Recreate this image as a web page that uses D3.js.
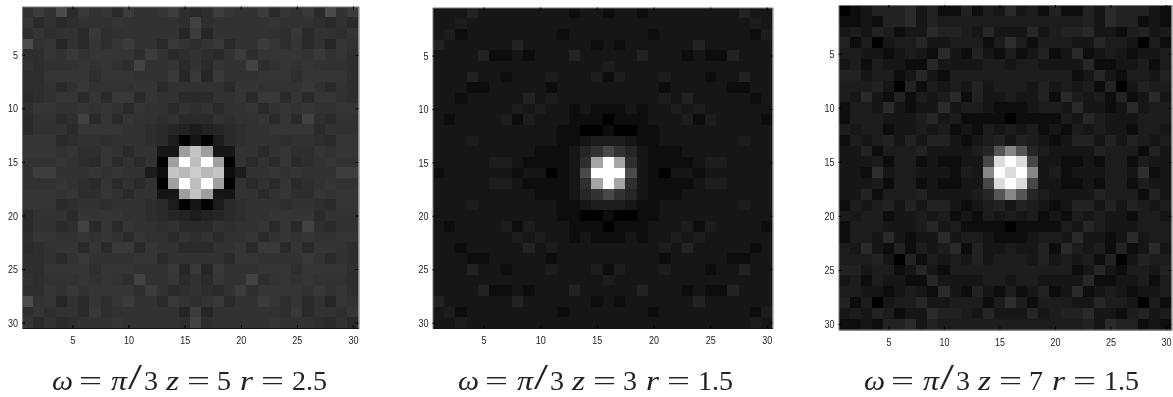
<!DOCTYPE html>
<html>
<head>
    <meta charset="utf-8" />
    <title>Gray images</title>
    <script src="https://d3js.org/d3.v7.min.js"></script>
    <style>
        html, body { margin: 0; padding: 0; background: #fff; }
        svg { display: block; }
        .tick text { font-family: "Liberation Sans", sans-serif; font-size: 11.5px; fill: #222; }
        .caption { font-family: "Liberation Serif", serif; font-size: 28px; fill: #222; }
    </style>
</head>
<body>
    <div id="the-chart"></div>
    <script>
        var tick_values = [5, 10, 15, 20, 25, 30];

        var image_a = [
            [48,58,50,72,44,56,48,54,44,58,50,50,52,60,46,44,46,60,52,50,50,58,44,54,48,56,44,72,50,58],
            [52,44,50,42,46,50,48,50,52,50,48,50,50,50,46,66,46,50,50,50,48,50,52,50,48,50,46,42,50,44],
            [46,54,46,50,50,44,56,46,50,50,50,50,50,50,40,62,40,50,50,50,50,50,50,46,56,44,50,50,46,54],
            [75,48,52,40,50,44,54,46,52,58,48,50,44,56,50,46,50,56,44,50,48,58,52,46,54,44,50,40,52,48],
            [46,46,52,50,56,48,52,52,54,54,46,58,50,44,46,50,46,44,50,58,46,54,54,52,52,48,56,50,52,46],
            [50,46,48,48,50,52,48,52,50,46,66,50,50,54,44,50,44,54,50,50,66,46,50,52,48,52,50,48,48,46],
            [46,46,54,54,54,52,46,52,54,52,48,50,50,56,40,56,40,56,50,50,48,52,54,52,46,52,54,54,54,46],
            [46,46,48,44,50,56,50,50,50,48,52,52,44,50,50,50,50,50,44,52,52,48,50,50,50,56,50,44,48,46],
            [42,46,50,54,54,44,54,44,56,56,44,52,50,50,42,42,42,50,50,52,44,56,56,44,54,44,54,54,50,46],
            [46,52,52,50,50,52,48,54,50,42,52,48,50,42,50,46,50,42,50,48,52,42,50,54,48,52,50,50,52,52],
            [44,50,50,44,46,66,42,52,44,54,50,50,46,50,42,42,42,50,46,50,50,54,44,52,42,66,46,44,50,50],
            [44,50,50,50,42,52,52,54,54,48,48,46,44,40,36,30,36,40,44,46,48,48,54,54,52,52,42,50,50,50],
            [52,52,52,44,46,50,50,46,50,50,48,46,44,30,5,18,5,30,44,46,48,50,50,46,50,50,46,44,52,52],
            [52,52,52,48,54,46,46,52,50,44,50,50,22,18,158,195,158,18,22,50,50,44,50,52,46,46,54,48,52,52],
            [50,50,48,52,50,46,44,52,44,50,44,50,0,160,255,190,255,160,0,50,44,50,44,52,44,46,50,52,48,50],
            [50,60,60,50,50,48,54,48,52,48,50,30,15,195,185,205,185,195,15,30,50,48,52,48,54,48,50,50,60,60],
            [50,50,48,52,50,46,44,52,44,50,44,50,0,160,255,190,255,160,0,50,44,50,44,52,44,46,50,52,48,50],
            [52,52,52,48,54,46,46,52,50,44,50,50,22,18,158,195,158,18,22,50,50,44,50,52,46,46,54,48,52,52],
            [52,52,52,44,46,50,50,46,50,50,48,46,44,30,5,18,5,30,44,46,48,50,50,46,50,50,46,44,52,52],
            [44,50,50,50,42,52,52,54,54,48,48,46,44,40,36,30,36,40,44,46,48,48,54,54,52,52,42,50,50,50],
            [44,50,50,44,46,66,42,52,44,54,50,50,46,50,42,42,42,50,46,50,50,54,44,52,42,66,46,44,50,50],
            [46,52,52,50,50,52,48,54,50,42,52,48,50,42,50,46,50,42,50,48,52,42,50,54,48,52,50,50,52,52],
            [42,46,50,54,54,44,54,44,56,56,44,52,50,50,42,42,42,50,50,52,44,56,56,44,54,44,54,54,50,46],
            [46,46,48,44,50,56,50,50,50,48,52,52,44,50,50,50,50,50,44,52,52,48,50,50,50,56,50,44,48,46],
            [46,46,54,54,54,52,46,52,54,52,48,50,50,56,40,56,40,56,50,50,48,52,54,52,46,52,54,54,54,46],
            [50,46,48,48,50,52,48,52,50,46,66,50,50,54,44,50,44,54,50,50,66,46,50,52,48,52,50,48,48,46],
            [46,46,52,50,56,48,52,52,54,54,46,58,50,44,46,50,46,44,50,58,46,54,54,52,52,48,56,50,52,46],
            [75,48,52,40,50,44,54,46,52,58,48,50,44,56,50,46,50,56,44,50,48,58,52,46,54,44,50,40,52,48],
            [46,54,46,50,50,44,56,46,50,50,50,50,50,50,40,62,40,50,50,50,50,50,50,46,56,44,50,50,46,54],
            [52,44,50,42,46,50,48,50,52,50,48,50,50,50,46,66,46,50,50,50,48,50,52,50,48,50,46,42,50,44]
        ];

        var image_b = [
            [20,20,22,36,20,22,22,22,18,20,22,20,16,20,18,10,18,20,16,20,22,20,18,22,22,22,20,36,22,20],
            [20,20,28,18,20,20,20,20,20,20,18,22,22,20,20,20,20,20,22,22,18,20,20,20,20,20,20,18,28,20],
            [20,28,12,20,20,22,22,22,18,18,20,16,20,22,22,18,22,22,20,16,20,18,18,22,22,22,20,20,12,28],
            [36,20,20,20,20,20,24,32,18,18,20,22,20,24,16,20,16,24,20,22,20,18,18,32,24,20,20,20,20,20],
            [20,20,20,20,36,16,16,20,16,20,20,20,32,18,22,20,22,18,32,20,20,20,16,20,16,16,36,20,20,20],
            [20,20,20,20,22,18,20,20,20,20,20,20,20,20,18,26,18,20,20,20,20,20,20,20,20,18,22,20,20,20],
            [20,20,20,32,18,22,14,20,18,20,26,20,20,22,28,14,28,22,20,20,26,20,18,20,14,22,18,32,20,20],
            [20,20,20,16,8,20,22,20,20,24,16,20,18,20,20,18,20,20,18,20,16,24,20,20,22,20,8,16,20,20],
            [20,20,16,18,20,18,22,20,32,20,30,18,20,20,20,20,20,20,20,18,30,20,32,20,22,18,20,18,16,20],
            [20,20,20,20,20,18,20,28,20,26,20,20,16,18,14,14,14,18,16,20,20,26,20,28,20,18,20,20,20,20],
            [20,14,22,22,18,22,26,14,26,20,22,20,14,8,10,0,10,8,14,20,22,20,26,14,26,22,18,22,22,14],
            [20,22,20,20,20,20,20,20,20,22,20,16,10,6,4,14,4,6,10,16,20,22,20,20,20,20,20,20,20,22],
            [20,22,18,26,20,18,20,20,20,22,18,14,16,24,28,28,28,24,16,14,18,22,20,20,20,18,20,26,18,22],
            [20,20,20,20,20,20,20,20,18,16,14,14,20,38,48,72,48,38,20,14,14,16,18,20,20,20,20,20,20,20],
            [18,20,20,20,20,26,26,20,16,12,10,14,22,45,165,255,165,45,22,14,10,12,16,20,26,26,20,20,20,20],
            [16,18,18,18,18,22,20,16,20,18,6,14,24,75,255,255,255,75,24,14,6,18,20,16,20,22,18,18,18,18],
            [18,20,20,20,20,26,26,20,16,12,10,14,22,45,165,255,165,45,22,14,10,12,16,20,26,26,20,20,20,20],
            [20,20,20,20,20,20,20,20,18,16,14,14,20,38,48,72,48,38,20,14,14,16,18,20,20,20,20,20,20,20],
            [20,22,18,26,20,18,20,20,20,22,18,14,16,24,28,28,28,24,16,14,18,22,20,20,20,18,20,26,18,22],
            [20,22,20,20,20,20,20,20,20,22,20,16,10,6,4,14,4,6,10,16,20,22,20,20,20,20,20,20,20,22],
            [20,14,22,22,18,22,26,14,26,20,22,20,14,8,10,0,10,8,14,20,22,20,26,14,26,22,18,22,22,14],
            [20,20,20,20,20,18,20,28,20,26,20,20,16,18,14,14,14,18,16,20,20,26,20,28,20,18,20,20,20,20],
            [20,20,16,18,20,18,22,20,32,20,30,18,20,20,20,20,20,20,20,18,30,20,32,20,22,18,20,18,16,20],
            [20,20,20,16,8,20,22,20,20,24,16,20,18,20,20,18,20,20,18,20,16,24,20,20,22,20,8,16,20,20],
            [20,20,20,32,18,22,14,20,18,20,26,20,20,22,28,14,28,22,20,20,26,20,18,20,14,22,18,32,20,20],
            [20,20,20,20,22,18,20,20,20,20,20,20,20,20,18,26,18,20,20,20,20,20,20,20,20,18,22,20,20,20],
            [20,20,20,20,36,16,16,20,16,20,20,20,32,18,22,20,22,18,32,20,20,20,16,20,16,16,36,20,20,20],
            [36,20,20,20,20,20,24,32,18,18,20,22,20,24,16,20,16,24,20,22,20,18,18,32,24,20,20,20,20,20],
            [20,28,12,20,20,22,22,22,18,18,20,16,20,22,22,18,22,22,20,16,20,18,18,22,22,22,20,20,12,28],
            [20,20,28,18,20,20,20,20,20,20,18,22,22,20,20,20,20,20,22,22,18,20,20,20,20,20,20,18,28,20]
        ];

        var image_c = [
            [3,16,24,36,36,32,42,22,34,14,14,34,10,26,22,42,22,26,10,34,14,14,34,22,42,32,36,36,24,16],
            [14,10,22,16,36,34,42,24,32,28,28,26,26,26,28,26,28,26,26,26,28,28,32,24,42,34,36,16,22,10],
            [22,26,24,32,26,12,20,22,42,34,32,30,24,38,22,20,22,38,24,30,32,34,42,22,20,12,26,32,24,26],
            [32,14,30,0,18,28,30,38,18,20,26,26,26,14,28,46,28,14,26,26,26,20,18,38,30,28,18,0,30,14],
            [30,30,24,20,12,22,26,22,14,42,20,12,34,24,12,28,12,24,34,12,20,42,14,22,26,22,12,20,24,30],
            [24,28,14,26,18,18,14,8,38,18,18,24,18,26,26,24,26,26,18,24,18,18,38,8,14,18,18,26,14,28],
            [34,34,22,28,26,10,24,38,18,14,26,26,30,30,30,30,30,30,30,26,26,14,18,38,24,10,26,28,22,34],
            [26,26,26,36,24,6,36,10,28,20,26,22,34,22,28,28,28,22,34,22,26,20,28,10,36,6,24,36,26,26],
            [26,24,42,20,12,36,12,30,22,26,42,14,36,20,24,26,24,20,36,14,42,26,22,30,12,36,12,20,42,24],
            [12,26,28,20,42,22,12,18,24,44,20,30,30,22,16,16,16,22,30,30,20,44,24,18,12,22,42,20,28,26],
            [14,28,26,26,24,22,22,26,40,18,30,8,16,14,16,6,16,14,16,8,30,18,40,26,22,22,24,26,26,28],
            [28,24,28,28,14,24,24,26,20,30,8,18,14,26,24,30,24,26,14,18,8,30,20,26,24,24,14,28,28,24],
            [14,26,20,28,36,20,34,22,36,36,22,16,18,28,32,18,32,28,18,16,22,36,36,22,34,20,36,28,20,26],
            [24,22,36,14,28,28,28,32,24,20,22,22,30,40,85,135,85,40,30,22,22,20,24,32,28,28,28,14,36,22],
            [20,22,24,30,12,26,28,14,22,14,16,22,20,70,220,255,220,70,20,22,16,14,22,14,28,26,12,30,24,22],
            [22,22,16,46,20,26,26,22,24,20,10,30,20,135,255,220,255,135,20,30,10,20,24,22,26,26,20,46,16,22],
            [20,22,24,30,12,26,28,14,22,14,16,22,20,70,220,255,220,70,20,22,16,14,22,14,28,26,12,30,24,22],
            [24,22,36,14,28,28,28,32,24,20,22,22,30,40,85,135,85,40,30,22,22,20,24,32,28,28,28,14,36,22],
            [14,26,20,28,36,20,34,22,36,36,22,16,18,28,32,18,32,28,18,16,22,36,36,22,34,20,36,28,20,26],
            [28,24,28,28,14,24,24,26,20,30,8,18,14,26,24,30,24,26,14,18,8,30,20,26,24,24,14,28,28,24],
            [14,28,26,26,24,22,22,26,40,18,30,8,16,14,16,6,16,14,16,8,30,18,40,26,22,22,24,26,26,28],
            [12,26,28,20,42,22,12,18,24,44,20,30,30,22,16,16,16,22,30,30,20,44,24,18,12,22,42,20,28,26],
            [26,24,42,20,12,36,12,30,22,26,42,14,36,20,24,26,24,20,36,14,42,26,22,30,12,36,12,20,42,24],
            [26,26,26,36,24,6,36,10,28,20,26,22,34,22,28,28,28,22,34,22,26,20,28,10,36,6,24,36,26,26],
            [34,34,22,28,26,10,24,38,18,14,26,26,30,30,30,30,30,30,30,26,26,14,18,38,24,10,26,28,22,34],
            [24,28,14,26,18,18,14,8,38,18,18,24,18,26,26,24,26,26,18,24,18,18,38,8,14,18,18,26,14,28],
            [30,30,24,20,12,22,26,22,14,42,20,12,34,24,12,28,12,24,34,12,20,42,14,22,26,22,12,20,24,30],
            [32,14,30,0,18,28,30,38,18,20,26,26,26,14,28,46,28,14,26,26,26,20,18,38,30,28,18,0,30,14],
            [22,26,24,32,26,12,20,22,42,34,32,30,24,38,22,20,22,38,24,30,32,34,42,22,20,12,26,32,24,26],
            [14,10,22,16,36,34,42,24,32,28,28,26,26,26,28,26,28,26,26,26,28,28,32,24,42,34,36,16,22,10]
        ];

        var z_values = ["5", "3", "7"],
            r_values = ["2.5", "1.5", "1.5"];

        var images = [image_a, image_b, image_c];

        // frame of each image
        var frames = [
            { left: 22, right: 358.5, top: 6.5, bottom: 328, captionLeft: 52 },
            { left: 432.5, right: 772.5, top: 7.5, bottom: 328, captionLeft: 458 },
            { left: 838.5, right: 1171.5, top: 5, bottom: 329.5, captionLeft: 864 }
        ];

        var svg = d3.select("#the-chart").append("svg")
            .attr("width", 1173)
            .attr("height", 397);

        var defs = svg.append("defs");
        defs.append("filter").attr("id", "soft")
            .attr("x", "-5%").attr("y", "-5%").attr("width", "110%").attr("height", "110%")
            .append("feGaussianBlur")
            .attr("stdDeviation", 0.6)
            .attr("edgeMode", "duplicate");
        defs.append("filter").attr("id", "soft-text")
            .append("feGaussianBlur")
            .attr("stdDeviation", 0.3);

        var gray = d3.scaleLinear().domain([0, 255]).range(["#000000", "#ffffff"]);

        function add_piece(g, str, x, baseline, width, italic, size) {
            var t = g.append("text")
                .attr("class", "caption")
                .attr("x", x)
                .attr("y", baseline)
                .attr("filter", "url(#soft-text)")
                .text(str);
            if (width) t.attr("textLength", width).attr("lengthAdjust", "spacingAndGlyphs");
            if (italic) t.style("font-style", "italic");
            if (size) t.style("font-size", size + "px");
            return t;
        }

        frames.forEach(function (f, p) {
            var x = d3.scaleLinear().domain([0.5, 30.5]).range([f.left, f.right]),
                y = d3.scaleLinear().domain([0.5, 30.5]).range([f.top, f.bottom]);

            defs.append("clipPath").attr("id", "clip-" + p)
                .append("rect")
                .attr("x", f.left).attr("y", f.top)
                .attr("width", f.right - f.left).attr("height", f.bottom - f.top);

            var cells = [];
            images[p].forEach(function (row, j) {
                row.forEach(function (v, i) {
                    cells.push({ col: i + 1, row: j + 1, value: v });
                });
            });

            svg.append("g").attr("clip-path", "url(#clip-" + p + ")")
                .append("g").attr("filter", "url(#soft)")
                .selectAll("rect")
                .data(cells)
                .enter().append("rect")
                .attr("x", function (d) { return Math.round(x(d.col - 0.5)); })
                .attr("y", function (d) { return Math.round(y(d.row - 0.5)); })
                .attr("width", function (d) { return Math.round(x(d.col + 0.5)) - Math.round(x(d.col - 0.5)); })
                .attr("height", function (d) { return Math.round(y(d.row + 0.5)) - Math.round(y(d.row - 0.5)); })
                .attr("shape-rendering", "crispEdges")
                .attr("fill", function (d) { return gray(d.value); });

            var axes = svg.append("g").attr("class", "axes");

            function style_axis(g) {
                g.selectAll(".domain").attr("stroke", "#777").attr("stroke-width", 1);
                g.selectAll(".tick line").attr("stroke", "#000");
            }

            function style_labels(g) {
                g.selectAll("text")
                    .attr("filter", "url(#soft-text)")
                    .attr("lengthAdjust", "spacingAndGlyphs")
                    .attr("textLength", function (d) { return String(d).length * 5; });
            }

            axes.append("g")
                .attr("transform", "translate(0," + f.bottom + ")")
                .call(d3.axisBottom(x).tickValues(tick_values).tickSizeInner(-3).tickSizeOuter(0).tickPadding(8))
                .call(style_axis)
                .call(style_labels)
                .call(function (g) { g.select(".domain").attr("stroke", "#111"); });

            axes.append("g")
                .attr("transform", "translate(" + f.left + ",0)")
                .call(d3.axisLeft(y).tickValues(tick_values).tickSizeInner(-3).tickSizeOuter(0).tickPadding(4))
                .call(style_axis)
                .call(style_labels);

            axes.append("g")
                .attr("transform", "translate(0," + f.top + ")")
                .call(d3.axisTop(x).tickValues(tick_values).tickSizeInner(-3).tickSizeOuter(0).tickFormat(""))
                .call(style_axis);

            axes.append("g")
                .attr("transform", "translate(" + f.right + ",0)")
                .call(d3.axisRight(y).tickValues(tick_values).tickSizeInner(-3).tickSizeOuter(0).tickFormat(""))
                .call(style_axis);

            // caption pieces are placed one by one, the math spacing is wider than plain text
            var c = svg.append("g"), b = 390, l = f.captionLeft;
            add_piece(c, "ω", l, b, 21, true);
            add_piece(c, "=", l + 27, b, 23);
            add_piece(c, "π", l + 59, b, 16, true);
            add_piece(c, "/", l + 76, b - 1, 14, false, 36);
            add_piece(c, "3", l + 92, b);
            add_piece(c, "z", l + 114, b, 13, true);
            add_piece(c, "=", l + 135, b, 23);
            add_piece(c, z_values[p], l + 165, b);
            add_piece(c, "r", l + 188, b, 13, true);
            add_piece(c, "=", l + 209, b, 23);
            add_piece(c, r_values[p], l + 240, b);
        });
    </script>
</body>
</html>
